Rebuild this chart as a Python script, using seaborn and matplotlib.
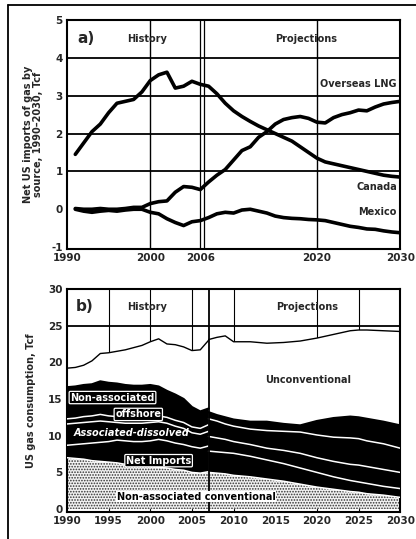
import numpy as np
import pandas as pd
import matplotlib
matplotlib.use("Agg")
import matplotlib.pyplot as plt
from matplotlib.lines import Line2D
import seaborn as sns

sns.set_theme(style="white")
plt.rcParams['font.family'] = ['Liberation Sans Narrow', 'DejaVu Sans']
plt.rcParams['font.weight'] = 'bold'
plt.rcParams['hatch.linewidth'] = 0.8

# ---------------- Panel a data ----------------
years_a = list(range(1991, 2031))
canada = [1.45, 1.75, 2.05, 2.25, 2.55, 2.8, 2.85, 2.9, 3.1, 3.4, 3.55, 3.62, 3.2, 3.25,
          3.38, 3.3, 3.25, 3.05, 2.8, 2.6, 2.45, 2.32, 2.2, 2.1, 2.0, 1.9, 1.8, 1.65, 1.5,
          1.35, 1.25, 1.2, 1.15, 1.1, 1.05, 1.0, 0.95, 0.9, 0.87, 0.85]
lng = [0.02, 0.0, 0.0, 0.02, 0.0, 0.0, 0.02, 0.05, 0.05, 0.15, 0.2, 0.22, 0.45, 0.6, 0.58,
       0.52, 0.72, 0.9, 1.05, 1.3, 1.55, 1.65, 1.9, 2.05, 2.25, 2.37, 2.42, 2.45, 2.4, 2.3,
       2.28, 2.42, 2.5, 2.55, 2.62, 2.6, 2.7, 2.78, 2.82, 2.85]
mexico = [0.0, -0.05, -0.08, -0.05, -0.03, -0.05, -0.02, 0.0, 0.0, -0.08, -0.12, -0.25,
          -0.35, -0.43, -0.33, -0.3, -0.22, -0.12, -0.08, -0.1, -0.02, 0.0, -0.05, -0.1,
          -0.18, -0.22, -0.24, -0.25, -0.27, -0.28, -0.3, -0.35, -0.4, -0.45, -0.48, -0.52,
          -0.53, -0.57, -0.6, -0.62]
series_names_a = ["Overseas LNG", "Canada", "Mexico"]
xticks_a = [1990, 2000, 2006, 2020, 2030]
yticks_a = [-1, 0, 1, 2, 3, 4, 5]

# ---------------- Panel b data ----------------
years_hist = list(range(1990, 2008))
hist_conv = [7.0, 6.9, 6.8, 6.6, 6.5, 6.4, 6.3, 6.1, 6.0, 5.9, 5.8, 5.7, 5.6, 5.4, 5.3, 5.0, 4.9, 5.1]
hist_imports = [1.7, 1.9, 2.1, 2.4, 2.6, 2.8, 3.1, 3.2, 3.2, 3.3, 3.5, 3.8, 3.7, 3.6, 3.5, 3.5, 3.4, 3.5]
hist_assoc = [2.9, 2.9, 2.9, 2.9, 2.9, 2.7, 2.4, 2.4, 2.5, 2.5, 2.5, 2.4, 2.4, 2.3, 2.2, 1.9, 1.9, 2.0]
hist_alaska = [0.7, 0.7, 0.8, 0.8, 0.9, 0.8, 0.8, 0.8, 0.8, 0.8, 0.8, 0.8, 0.8, 0.8, 0.8, 0.8, 0.8, 0.9]
hist_offshore = [4.3, 4.3, 4.3, 4.3, 4.5, 4.5, 4.5, 4.4, 4.3, 4.3, 4.3, 4.0, 3.6, 3.5, 3.2, 2.7, 2.3, 2.2]
hist_unconv = [2.6, 2.6, 2.7, 3.2, 3.8, 4.1, 4.4, 4.8, 5.2, 5.5, 5.9, 6.5, 6.4, 6.8, 7.1, 7.7, 8.4, 9.3]

years_proj = [2007, 2008, 2009, 2010, 2012, 2014, 2016, 2018, 2020, 2022, 2024, 2025, 2026, 2028, 2030]
proj_conv = [5.0, 4.9, 4.8, 4.6, 4.4, 4.1, 3.8, 3.4, 3.0, 2.7, 2.4, 2.3, 2.1, 1.9, 1.6]
proj_imports = [2.9, 2.9, 2.9, 3.0, 2.8, 2.6, 2.4, 2.2, 2.0, 1.7, 1.5, 1.4, 1.4, 1.2, 1.2]
proj_assoc = [2.0, 1.9, 1.8, 1.6, 1.6, 1.6, 1.8, 2.0, 2.0, 2.1, 2.2, 2.3, 2.3, 2.3, 2.2]
proj_alaska = [2.4, 2.3, 2.1, 2.1, 2.1, 2.4, 2.6, 2.9, 3.1, 3.3, 3.6, 3.6, 3.5, 3.5, 3.3]
proj_offshore = [0.9, 0.8, 0.9, 0.9, 1.0, 1.2, 1.0, 0.9, 1.9, 2.6, 2.9, 2.9, 3.0, 3.0, 3.1]
proj_unconv = [9.9, 10.6, 11.1, 10.6, 10.9, 10.7, 11.1, 11.5, 11.3, 11.4, 11.7, 11.9, 12.1, 12.4, 12.8]
xticks_b = [1990, 1995, 2000, 2005, 2010, 2015, 2020, 2025, 2030]
yticks_b = [0, 5, 10, 15, 20, 25, 30]

# ---------------- Figure ----------------
fig = plt.figure(figsize=(4.16, 5.39), dpi=100)
ax1 = fig.add_axes([0.161, 0.538, 0.801, 0.425])
ax2 = fig.add_axes([0.161, 0.050, 0.801, 0.414])

tick_fs = 7.5

# ---- Panel a ----
df_a = pd.DataFrame({
    "year": years_a * 3,
    "value": lng + canada + mexico,
    "source": ["Overseas LNG"] * len(years_a) + ["Canada"] * len(years_a) + ["Mexico"] * len(years_a),
})
for y in [1, 2, 3, 4]:
    ax1.axhline(y, color="black", lw=1.3, zorder=1)
for x in [2000, 2020]:
    ax1.axvline(x, color="black", lw=1.0, zorder=1)
ax1.axvline(2006, color="black", lw=0.9, zorder=1)
ax1.axvline(2006.5, color="black", lw=0.9, zorder=1)
sns.lineplot(data=df_a, x="year", y="value", hue="source",
             palette={"Overseas LNG": "black", "Canada": "black", "Mexico": "black"},
             linewidth=2.6, legend=False, ax=ax1, zorder=3)
ax1.set_xlim(1990, 2030)
ax1.set_ylim(-1.05, 5)
ax1.set_xticks(xticks_a)
ax1.set_yticks(yticks_a)
ax1.set_xticklabels([str(t) for t in xticks_a], fontsize=tick_fs, fontweight="bold")
ax1.set_yticklabels([str(t) for t in yticks_a], fontsize=tick_fs, fontweight="bold")
ax1.set_xlabel("")
ax1.set_ylabel("Net US imports of gas by\nsource, 1990–2030, Tcf", fontsize=7,
               fontweight="bold", labelpad=6, linespacing=1.0)
ax1.tick_params(axis="both", length=0, pad=3)
for s in ax1.spines.values():
    s.set_color("black")
    s.set_linewidth(1.5)
ax1.text(1991.2, 4.5, "a)", fontsize=11, fontweight="bold", va="center", ha="left")
ax1.text(1999.6, 4.5, "History", fontsize=7, fontweight="bold", va="center", ha="center")
ax1.text(2018.7, 4.5, "Projections", fontsize=7, fontweight="bold", va="center", ha="center")
ax1.text(2029.6, 3.3, series_names_a[0], fontsize=7, fontweight="bold", va="center", ha="right")
ax1.text(2029.6, 0.58, series_names_a[1], fontsize=7, fontweight="bold", va="center", ha="right")
ax1.text(2029.6, -0.2, series_names_a[2], fontsize=7, fontweight="bold", va="bottom", ha="right")

# ---- Panel b ----
ax2.axhline(25, color="black", lw=1.3, zorder=1)
for x in [1995, 2000, 2005, 2010, 2020, 2025]:
    ax2.axvline(x, color="black", lw=0.8, zorder=1)


def draw_stack(ax, yrs, layers):
    yrs = np.asarray(yrs, dtype=float)
    base = np.zeros(len(yrs))
    cum = [base]
    for lay in layers:
        cum.append(cum[-1] + np.asarray(lay))
    # conventional (stippled)
    ax.fill_between(yrs, cum[0], cum[1], facecolor="#f2f2f2", edgecolor="#333333",
                    hatch="......", linewidth=0, zorder=2)
    # black layers
    for i in range(1, 5):
        ax.fill_between(yrs, cum[i], cum[i + 1], facecolor="black", edgecolor="none",
                        linewidth=0, zorder=2)
    for i in range(1, 5):
        ax.plot(yrs, cum[i], color="white", lw=1.1, zorder=3)
    # unconventional (white)
    ax.fill_between(yrs, cum[5], cum[6], facecolor="white", edgecolor="none", zorder=2)
    ax.plot(yrs, cum[5], color="black", lw=1.6, zorder=3)
    ax.plot(yrs, cum[6], color="black", lw=1.0, zorder=3)


draw_stack(ax2, years_hist, [hist_conv, hist_imports, hist_assoc, hist_alaska, hist_offshore, hist_unconv])
draw_stack(ax2, years_proj, [proj_conv, proj_imports, proj_assoc, proj_alaska, proj_offshore, proj_unconv])
ax2.axvline(2007, color="black", lw=1.3, zorder=5)

ax2.set_xlim(1990, 2030)
ax2.set_ylim(-0.4, 30)
ax2.set_xticks(xticks_b)
ax2.set_yticks(yticks_b)
ax2.set_xticklabels([str(t) for t in xticks_b], fontsize=tick_fs, fontweight="bold")
ax2.set_yticklabels([str(t) for t in yticks_b], fontsize=tick_fs, fontweight="bold")
ax2.set_ylabel("US gas consumption, Tcf", fontsize=7, fontweight="bold", labelpad=9)
ax2.tick_params(axis="both", length=0, pad=3)
for s in ax2.spines.values():
    s.set_color("black")
    s.set_linewidth(1.5)
ax2.text(1991.0, 27.6, "b)", fontsize=11, fontweight="bold", va="center", ha="left")
ax2.text(1999.6, 27.5, "History", fontsize=7, fontweight="bold", va="center", ha="center")
ax2.text(2018.8, 27.5, "Projections", fontsize=7, fontweight="bold", va="center", ha="center")
ax2.text(2019.0, 17.6, "Unconventional", fontsize=7, fontweight="bold", va="center", ha="center", zorder=6)

wbox = dict(boxstyle="round,pad=0.12", fc="black", ec="white", lw=0.9)
ax2.text(1990.4, 15.2, "Non-associated", color="white", fontsize=7, fontweight="bold",
         ha="left", va="center", bbox=wbox, zorder=6)
ax2.text(1995.8, 12.9, "offshore", color="white", fontsize=7, fontweight="bold",
         ha="left", va="center", bbox=wbox, zorder=6)
ax2.text(1990.8, 10.4, "Associated-dissolved", color="white", fontsize=7, fontstyle="italic",
         ha="left", va="center", zorder=6)
ax2.text(2001.0, 6.6, "Net Imports", color="white", fontsize=7, fontweight="bold",
         ha="center", va="center", bbox=wbox, zorder=6)
ax2.text(2005.5, 1.7, "Non-associated conventional", color="black", fontsize=7, fontweight="bold",
         ha="center", va="center",
         bbox=dict(boxstyle="square,pad=0.05", fc="white", ec="none"), zorder=6)

# figure frame lines (left and top)
fig.add_artist(Line2D([0.019, 0.019], [0.0, 0.991], transform=fig.transFigure, color="black", lw=1.3))
fig.add_artist(Line2D([0.019, 1.0], [0.991, 0.991], transform=fig.transFigure, color="black", lw=1.3))

fig.savefig("out.png", dpi=100)
